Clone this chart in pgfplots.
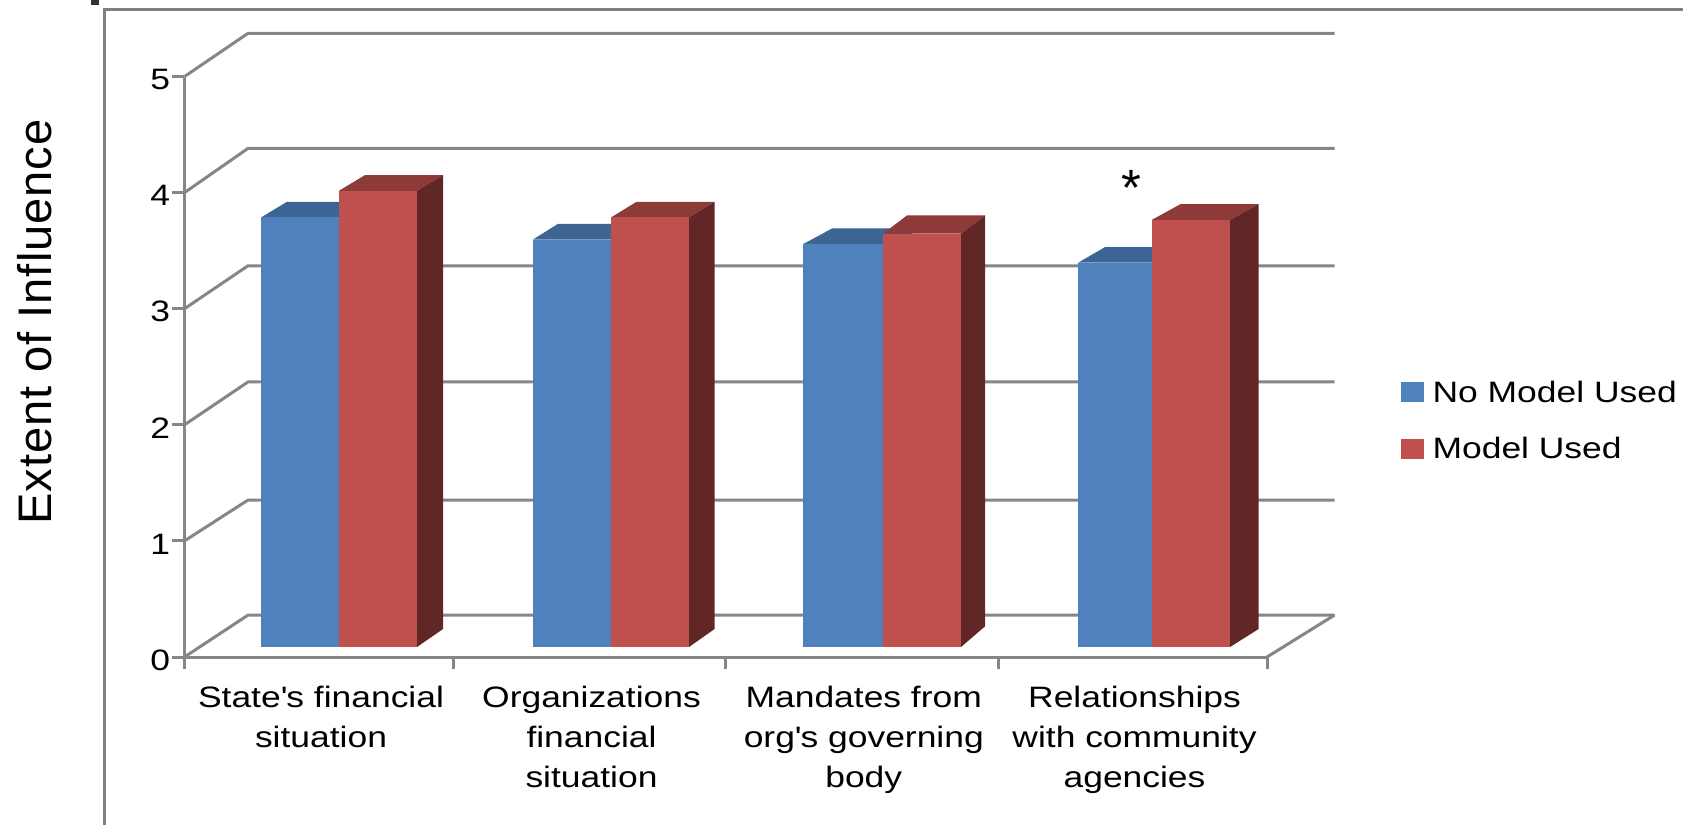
\documentclass[border=0pt]{standalone}
\usepackage{fontspec}
\setmainfont{Liberation Sans}[FakeStretch=1.2]
\newfontfamily\plainfont{Liberation Sans}[LetterSpace=2]
\usepackage{pgfplots}
\pgfplotsset{compat=1.18}
\definecolor{gridgray}{RGB}{134,134,134}
\definecolor{framegray}{RGB}{128,128,128}
\definecolor{bluefront}{RGB}{79,129,189}
\definecolor{bluetop}{RGB}{60,100,148}
\definecolor{redfront}{RGB}{192,80,77}
\definecolor{redtop}{RGB}{142,58,56}
\definecolor{redside}{RGB}{97,39,38}

% one 3D bar: left px, right px, value, front, top, side, depth px, depth in value units
\newcommand{\cube}[8]{%
  \pgfmathsetmacro\yb{0.086}%
  \pgfmathsetmacro\ybb{0.086+#8+0.02}%
  \pgfmathsetmacro\yt{#3+0.086}%
  \pgfmathsetmacro\ytt{#3+0.086+#8}%
  \pgfmathsetmacro\xab{#1+#7}%
  \pgfmathsetmacro\xbb{#2+#7}%
  \edef\temp{%
    \noexpand\addplot[fill=#5,draw=none,forget plot] coordinates {(#1,\yt) (#2,\yt) (\xbb,\ytt) (\xab,\ytt)} --cycle;
    \noexpand\addplot[fill=#6,draw=none,forget plot] coordinates {(#2,\yb) (\xbb,\ybb) (\xbb,\ytt) (#2,\yt)} --cycle;
    \noexpand\addplot[fill=#4,draw=none,forget plot] coordinates {(#1,\yb) (#2,\yb) (#2,\yt) (#1,\yt)} --cycle;
  }\temp}
% back wall line for one tick: tick value, height on the wall
\newcommand{\wall}[2]{%
  \draw[gridgray,line width=0.03cm] (axis cs:184.5,#1) -- (axis cs:248,#2) -- (axis cs:1334.5,#2);}

\begin{document}
\begin{tikzpicture}
  \path[use as bounding box] (0,0) rectangle (16.83,8.25);
  % outer frame and corner mark
  \draw[framegray,line width=0.03cm] (1.046,0) -- (1.046,8.153) -- (16.83,8.153);
  \fill[black!80] (0.91,8.20) rectangle (0.99,8.25);
  \begin{axis}[
    at={(1.845cm,1.68cm)}, anchor=south west,
    scale only axis,
    width=10.825cm, height=5.805cm,
    xmin=184.5, xmax=1267, ymin=0, ymax=5,
    clip=false,
    axis lines*=left,
    axis line style={gridgray,line width=0.03cm},
    tick style={gridgray,line width=0.03cm},
    tick align=outside,
    major tick length=0.12cm,
    xtick={184.5,453.5,725.5,998,1267},
    x tick label as interval,
    xticklabels={State\textquotesingle s financial\\situation,Organizations\\financial\\situation,Mandates from\\org\textquotesingle s governing\\body,Relationships\\with community\\agencies},
    xticklabel style={align=center,font=\fontsize{8.4}{11.4}\selectfont,yshift=-0.05cm,xshift=0.02cm},
    ytick={0,1,2,3,4,5},
    yticklabel style={font=\fontsize{8.4}{10}\selectfont,yshift=-0.03cm,xshift=0.1cm},
    /pgf/number format/assume math mode=true,
    ylabel={Extent of Influence},
    every axis y label/.style={at={(axis description cs:-0.138,0.577)},rotate=90,anchor=center,font=\plainfont\fontsize{13.4}{16}\selectfont},
    legend style={at={(axis cs:1400,2.02)},anchor=west,draw=none,fill=none,inner sep=0pt,
      row sep=0.30cm,font=\fontsize{8.4}{10}\selectfont,
      nodes={inner sep=0pt,anchor=base west}},
    legend cell align=left,
  ]
    % back wall and floor
    \wall{0}{0.361}
    \wall{1}{1.352}
    \wall{2}{2.369}
    \wall{3}{3.370}
    \wall{4}{4.381}
    \wall{5}{5.372}
    \draw[gridgray,line width=0.03cm] (axis cs:1267,0) -- (axis cs:1334.5,0.361);

    \addlegendimage{legend image code/.code={\fill[bluefront] (0cm,0.005cm) rectangle (0.22cm,0.195cm);\path (0.305cm,0);}}
    \addlegendentry{No Model Used}
    \addlegendimage{legend image code/.code={\fill[redfront] (0cm,0.005cm) rectangle (0.22cm,0.195cm);\path (0.305cm,0);}}
    \addlegendentry{Model Used}

    \cube{261}{339}{3.70}{bluefront}{bluetop}{bluetop}{26}{0.135}
    \cube{339}{417}{3.93}{redfront}{redtop}{redside}{26}{0.135}
    \cube{533}{611}{3.51}{bluefront}{bluetop}{bluetop}{25}{0.135}
    \cube{611}{689}{3.70}{redfront}{redtop}{redside}{25.5}{0.135}
    \cube{803}{883}{3.47}{bluefront}{bluetop}{bluetop}{29}{0.135}
    \cube{883}{961}{3.56}{redfront}{redtop}{redside}{24}{0.158}
    \cube{1078}{1152}{3.31}{bluefront}{bluetop}{bluetop}{27}{0.135}
    \cube{1152}{1230}{3.68}{redfront}{redtop}{redside}{28.5}{0.135}

    \node[font=\plainfont\fontsize{14.5}{16}\selectfont,inner sep=0pt] at (axis cs:1131,4.04) {*};
  \end{axis}
\end{tikzpicture}
\end{document}
